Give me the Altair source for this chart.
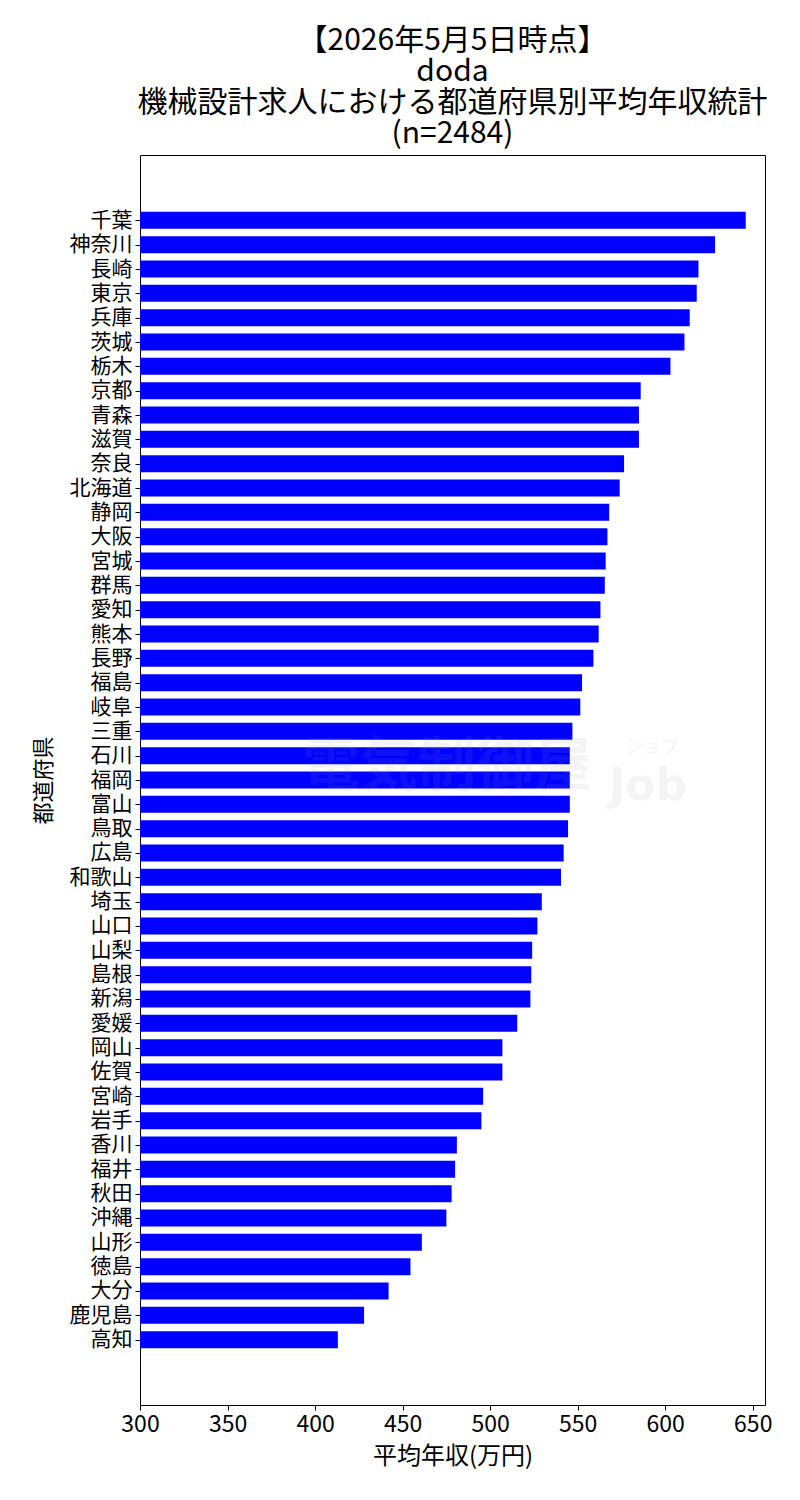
import json
import altair as alt
import pandas as pd

prefs = ["千葉", "神奈川", "長崎", "東京", "兵庫", "茨城", "栃木", "京都", "青森", "滋賀",
         "奈良", "北海道", "静岡", "大阪", "宮城", "群馬", "愛知", "熊本", "長野", "福島",
         "岐阜", "三重", "石川", "福岡", "富山", "鳥取", "広島", "和歌山", "埼玉", "山口",
         "山梨", "島根", "新潟", "愛媛", "岡山", "佐賀", "宮崎", "岩手", "香川", "福井",
         "秋田", "沖縄", "山形", "徳島", "大分", "鹿児島", "高知"]
salaries = [646, 628.5, 619, 618, 614, 611, 603, 586, 585, 585,
            576.5, 574, 568, 567, 566, 565.5, 563, 562, 559, 552.5,
            551.5, 547, 545.5, 545.5, 545.5, 544.5, 542, 540.5, 529.5, 527,
            524, 523.5, 523, 515.5, 507, 507, 496, 495, 481, 480,
            478, 475, 461, 454.5, 442, 428, 413]
title_lines = ["【2026年5月5日時点】", "doda", "機械設計求人における都道府県別平均年収統計", "(n=2484)"]
x_ticks = [300, 350, 400, 450, 500, 550, 600, 650]
x_domain = [300, 657]
watermark_main = ["電気制御屋"]
watermark_job = ["Job"]
watermark_kana = ["ジョブ"]

CJK = "Noto Sans CJK JP, sans-serif"

n = len(prefs)
df = pd.DataFrame({"pref": prefs, "salary": salaries, "idx": list(range(n))})
half = 0.35
margin = 0.05 * (n - 1 + 2 * half)
y_domain = [-half - margin, n - 1 + half + margin]
label_expr = json.dumps(prefs, ensure_ascii=False) + "[datum.value]"

bars = alt.Chart(df).transform_calculate(
    y0=f"datum.idx - {half}", y1=f"datum.idx + {half}"
).mark_bar(color="#0000ff").encode(
    y=alt.Y("y0:Q",
            scale=alt.Scale(domain=y_domain, nice=False, zero=False, reverse=True),
            axis=alt.Axis(title="都道府県", values=list(range(n)), labelExpr=label_expr,
                          grid=False, titleFont=CJK, titleFontSize=22,
                          titleFontWeight="normal", titleColor="black",
                          labelFont=CJK, labelFontSize=21, labelColor="black",
                          labelPadding=3, tickSize=5, tickColor="black",
                          labelOverlap=False, labelBaseline="middle", labelFlush=False,
                          domain=False, titlePadding=14)),
    y2="y1:Q",
    x=alt.X("salary:Q",
            scale=alt.Scale(domain=x_domain, nice=False, zero=False),
            axis=alt.Axis(values=x_ticks, title="平均年収(万円)", grid=False,
                          titleFont=CJK, titleFontSize=24, titleFontWeight="normal",
                          titleColor="black", labelFont=CJK, labelFontSize=23,
                          labelColor="black", labelPadding=3, tickSize=5,
                          labelFlush=False, labelOverlap=False,
                          tickColor="black", domain=False, titlePadding=8)),
    x2=alt.datum(300),
)

wm1 = alt.Chart(pd.DataFrame({"t": watermark_main})).mark_text(
    font=CJK, fontSize=58, fontWeight="bold", color="#a0a0b8", opacity=0.1
).encode(text="t:N", x=alt.value(307), y=alt.value(613))
wm2 = alt.Chart(pd.DataFrame({"t": watermark_job})).mark_text(
    font="DejaVu Sans, sans-serif", fontSize=44, fontWeight="bold", color="#a0a0b8", opacity=0.1
).encode(text="t:N", x=alt.value(508), y=alt.value(632))
wm3 = alt.Chart(pd.DataFrame({"t": watermark_kana})).mark_text(
    font=CJK, fontSize=18, color="#a0a0b8", opacity=0.1
).encode(text="t:N", x=alt.value(512), y=alt.value(593))

chart = alt.layer(bars, wm1, wm2, wm3).properties(
    width=625, height=1250,
    background="white",
    autosize=alt.AutoSizeParams(type="none"),
    padding={"left": 132, "top": 147, "right": 27, "bottom": 87},
    title=alt.TitleParams(text=title_lines, font=CJK, fontSize=30, fontWeight="normal",
                          lineHeight=31, anchor="middle", offset=6, color="black"),
).configure_view(stroke="black", strokeWidth=1)

chart.save("out.html", embed_options={"renderer": "svg", "actions": False})
